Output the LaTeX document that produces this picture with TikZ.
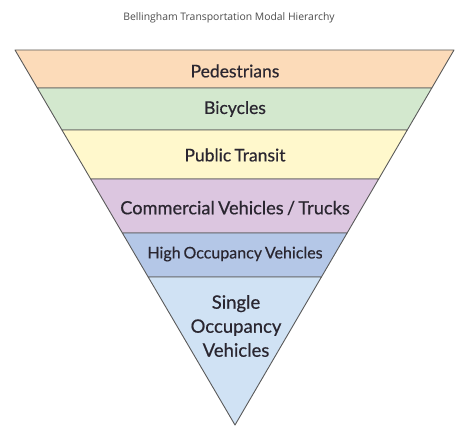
\documentclass[tikz,border=0pt]{standalone}
\usepackage{fontspec}
\setmainfont{Lato}[FakeBold=0.5]
\newfontfamily\ttlfont{Open Sans}
\usetikzlibrary{calc}
\definecolor{cPed}{HTML}{FCDBB9}
\definecolor{cBic}{HTML}{D3E8CE}
\definecolor{cPub}{HTML}{FFF8CC}
\definecolor{cCom}{HTML}{DCC6E0}
\definecolor{cHov}{HTML}{B4C7E7}
\definecolor{cSov}{HTML}{D0E2F4}
\definecolor{edge}{HTML}{5A5A5A}
\definecolor{txt}{HTML}{2A2630}
\newcommand\tightsp{\spaceskip=0.18em plus 0.05em\relax}
\begin{document}
\begin{tikzpicture}[x=1pt,y=-1pt,
  band/.style={draw=edge,line width=0.9pt,line join=round},
  lbl/.style={text=txt,font=\fontsize{17.5}{20}\selectfont,align=center,inner sep=0pt},
  ttl/.style={text=black!70,font=\ttlfont\fontsize{10.4}{12}\selectfont,inner sep=0pt}]
\useasboundingbox (0,0) rectangle (455,427);
\coordinate (TL) at (15,50);
\coordinate (TR) at (454,50);
\coordinate (Ap) at (235,425);
\foreach \n/\y in {a/88,b/130,c/179,d/233,e/277}{
  \coordinate (L\n) at ($(TL)!{(\y-50)/375}!(Ap)$);
  \coordinate (R\n) at ($(TR)!{(\y-50)/375}!(Ap)$);
}
\filldraw[band,fill=cPed] (TL) -- (TR) -- (Ra) -- (La) -- cycle;
\filldraw[band,fill=cBic] (La) -- (Ra) -- (Rb) -- (Lb) -- cycle;
\filldraw[band,fill=cPub] (Lb) -- (Rb) -- (Rc) -- (Lc) -- cycle;
\filldraw[band,fill=cCom] (Lc) -- (Rc) -- (Rd) -- (Ld) -- cycle;
\filldraw[band,fill=cHov] (Ld) -- (Rd) -- (Re) -- (Le) -- cycle;
\filldraw[band,fill=cSov] (Le) -- (Re) -- (Ap) -- cycle;
\node[ttl] (title) at (229,18) {Bellingham Transportation Modal Hierarchy};
\node[lbl] (ped) at (235,71) {Pedestrians};
\node[lbl] (bic) at (235,109) {Bicycles};
\node[lbl] (pub) at (235,155) {\tightsp Public Transit};
\node[lbl,font=\fontsize{18.2}{20}\selectfont] (com) at (235,208) {\tightsp Commercial Vehicles / Trucks};
\node[lbl,font=\fontsize{16}{18}\selectfont] (hov) at (235,254) {\tightsp High Occupancy Vehicles};
\node[lbl,font=\fontsize{18.5}{24}\selectfont] (sov) at (236,326) {Single\\Occupancy\\Vehicles};
\end{tikzpicture}
\end{document}
